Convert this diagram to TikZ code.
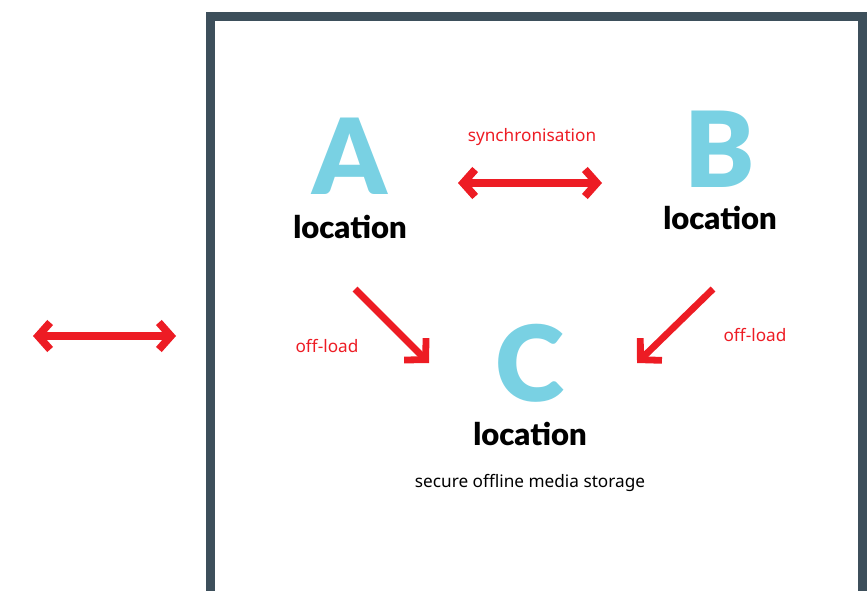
\documentclass[tikz,border=0pt]{standalone}
\usepackage{fontspec}
\setmainfont{Noto Sans}
\newfontfamily\heavyfont{Lato Black}
\usetikzlibrary{arrows.meta, positioning}

\definecolor{framegray}{HTML}{3D4F5B}
\definecolor{sitered}{HTML}{ED1C24}
\definecolor{sitecyan}{HTML}{79D1E3}

\begin{document}
\begin{tikzpicture}[x=1pt, y=-1pt,
    letter/.style={text=sitecyan, font=\heavyfont\fontsize{105}{105}\selectfont, inner sep=0pt},
    place/.style={font=\heavyfont\fontsize{31}{31}\selectfont, inner sep=0pt},
    note/.style={text=sitered, font=\fontsize{17.2}{18}\selectfont, inner sep=0pt},
    twoway/.style={draw=sitered, line width=7.7pt, {Straight Barb[length=12pt, width=27pt]}-{Straight Barb[length=12pt, width=27pt]}},
    oneway/.style={draw=sitered, line width=6.8pt, -{Straight Barb[length=15pt, width=31pt]}}]

        \useasboundingbox (0,0) rectangle (867,591);

        % frame, open at the bottom
        \draw[framegray, line width=9pt, line join=miter] (210.5,600) -- (210.5,16.5) -- (862.5,16.5) -- (862.5,600);

        % the three locations
        \node[letter] (lA) at (350,156) {A};
        \node[place, below=21pt of lA] (locA) {location};

        \node[letter] (lB) at (720,149) {B};
        \node[place, below=19pt of lB] (locB) {location};

        \node[letter] (lC) at (530,363) {C};
        \node[place, below=20pt of lC] (locC) {location};
        \node[font=\fontsize{17.2}{18}\selectfont, inner sep=0pt] (store) at (530,483) {secure offline media storage};

        % synchronisation A <-> B
        \coordinate (syncL) at (458,183);
        \coordinate (syncR) at (602,183);
        \draw[twoway] (syncL) -- (syncR);
        \node[note] (sync) at (532,137) {synchronisation};

        % off-load to C
        \coordinate (offAs) at (355,289);
        \coordinate (offAe) at (429,363);
        \draw[oneway] (offAs) -- (offAe);
        \node[note] (offA) at (327,346) {off-load};

        \coordinate (offBs) at (713,289);
        \coordinate (offBe) at (637,363);
        \draw[oneway] (offBs) -- (offBe);
        \node[note] (offB) at (755,335) {off-load};

        % outside link
        \coordinate (extL) at (33,336);
        \coordinate (extR) at (176,336);
        \draw[twoway] (extL) -- (extR);

\end{tikzpicture}
\end{document}
